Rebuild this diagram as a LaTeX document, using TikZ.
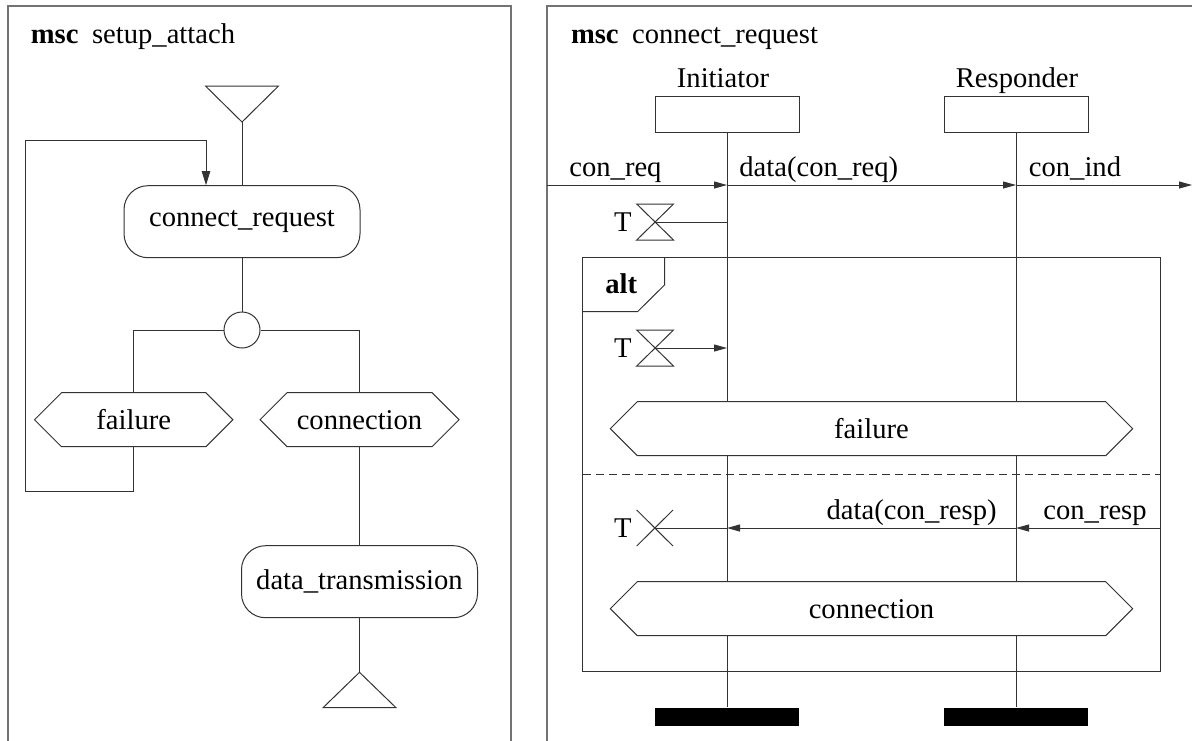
\documentclass[tikz,border=0pt]{standalone}
\usepackage{fontspec}
\setmainfont{Liberation Serif}
\usetikzlibrary{arrows.meta,shapes.symbols}
\newcommand\dfont{\fontsize{14.3pt}{17pt}\selectfont}
\begin{document}
\begin{tikzpicture}[x=0.5pt,y=-0.5pt,
  line/.style={draw=black!80, line width=0.5pt},
  frame/.style={draw=black!55, line width=0.8pt},
  txt/.style={font=\dfont, inner sep=0pt},
  msg/.style={line, -{Triangle[length=6.5pt,width=3.5pt]}},
  loopar/.style={line, -{Triangle[length=7pt,width=4.2pt]}},
  rbox/.style={line, rounded corners=12pt, minimum width=118pt, minimum height=36pt, font=\dfont, fill=white},
  hexa/.style={signal, signal to=east and west, signal pointer angle=90, line, fill=white, font=\dfont, minimum height=27pt, inner sep=0pt},
  inst/.style={line, minimum width=72pt, minimum height=18pt, inner sep=0pt},
  stopbar/.style={fill=black, minimum width=72pt, minimum height=9.2pt, inner sep=0pt}]
\useasboundingbox (0,0) rectangle (1192,740);
% ---------------- left panel ----------------
\draw[frame] (8,770) -- (8,6) -- (511,6) -- (511,770);
\node[txt, anchor=base west, font=\dfont\bfseries] (t1a) at (30.4,43) {msc};
\node[txt, anchor=base west] (t1b) at (91.7,43) {setup\_attach};
\coordinate (st) at (242,122);
\draw[line] (205.5,86) -- (278.5,86) -- (st) -- cycle;
\node[rbox] (cr) at (242,221.7) {connect\_request};
\draw[line] (st) -- (cr.north);
\node[circle, line, minimum size=18pt, inner sep=0pt] (cond) at (242,330) {};
\draw[line] (cr.south) -- (cond.north);
\node[hexa, minimum width=99.2pt] (lf) at (133.7,419.7) {failure};
\node[hexa, minimum width=99.5pt] (lc) at (359.5,419.7) {connection};
\draw[line] (cond.west) -| (lf.north);
\draw[line] (cond.east) -| (lc.north);
\draw[loopar] (lf.south) |- (25,491.7) |- (206,140.7) -- ([xshift=-18pt]cr.north);
\node[rbox] (dt) at (359.5,581.7) {data\_transmission};
\draw[line] (lc.south) -- (dt.north);
\coordinate (et) at (359.5,672.3);
\draw[line] (dt.south) -- (et);
\draw[line] (et) -- (396,707.7) -- (323,707.7) -- cycle;
% ---------------- right panel ----------------
\draw[frame] (547,770) -- (547,6) -- (1210,6);
\node[txt, anchor=base west, font=\dfont\bfseries] (t2a) at (570.6,43) {msc};
\node[txt, anchor=base west] (t2b) at (631.7,43) {connect\_request};
\node[txt, anchor=base] (linit) at (723,87) {Initiator};
\node[txt, anchor=base] (lresp) at (1017,87) {Responder};
\node[inst] (ib) at (727,114) {};
\node[inst] (rb) at (1016,114) {};
\node[stopbar] (ie) at (727,716.9) {};
\node[stopbar] (re) at (1016,716.9) {};
\draw[line] (ib.south) -- (ie.north);
\draw[line] (rb.south) -- (re.north);
% messages
\coordinate (inL) at (547,185);
\coordinate (i1) at (727,185);
\coordinate (r1) at (1016,185);
\coordinate (outR) at (1192,185);
\draw[msg] (inL) -- (i1);
\draw[msg] (i1) -- (r1);
\draw[msg] (r1) -- (outR);
\node[txt, anchor=base west] (m1) at (569,176) {con\_req};
\node[txt, anchor=base west] (m2) at (739,176) {data(con\_req)};
\node[txt, anchor=base west] (m3) at (1028.5,176) {con\_ind};
% timer 1
\node[txt, anchor=east] (T1) at (632,222) {T};
\draw[line] (636.7,204) -- (673.5,204) -- (636.7,240) -- (673.5,240) -- cycle;
\coordinate (h1) at (655,222);
\coordinate (i2) at (727,222);
\draw[line] (h1) -- (i2);
% alt frame
\draw[line] (582.7,257.7) rectangle (1160,671.7);
\draw[line] (664.5,257.7) -- (664.5,285) -- (637.5,311.7) -- (582.7,311.7);
\node[txt, anchor=base west, font=\dfont\bfseries] (altl) at (605,293) {alt};
% timer 2
\node[txt, anchor=east] (T2) at (632,348) {T};
\draw[line] (636.7,330) -- (673.5,330) -- (636.7,366) -- (673.5,366) -- cycle;
\coordinate (h2) at (655,348);
\coordinate (i4) at (727,348);
\draw[msg] (h2) -- (i4);
% conditions
\node[hexa, minimum width=261.2pt] (rf) at (871.5,428.7) {failure};
\draw[line, dash pattern=on 4pt off 2.5pt] (583,474) -- (1160,474);
% second alternative
\coordinate (altR) at (1160,528);
\coordinate (r3) at (1016,528);
\coordinate (i3) at (727,528);
\draw[msg] (altR) -- (r3);
\draw[msg] (r3) -- (i3);
\node[txt, anchor=base east] (m4) at (997,519.5) {data(con\_resp)};
\node[txt, anchor=base west] (m5) at (1043,519.5) {con\_resp};
\node[txt, anchor=east] (T3) at (632,528) {T};
\draw[line] (636.7,510) -- (673,546) (636.7,546) -- (673,510);
\coordinate (x3) at (655,528);
\draw[line] (x3) -- (i3);
\node[hexa, minimum width=261.2pt] (rc) at (871.5,608.7) {connection};
\end{tikzpicture}
\end{document}
